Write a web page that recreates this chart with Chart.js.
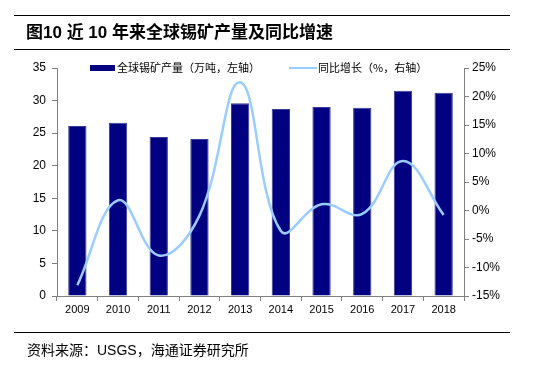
<!DOCTYPE html>
<html>
<head>
<meta charset="utf-8">
<script src="https://cdn.jsdelivr.net/npm/chart.js@4/dist/chart.umd.min.js"></script>
<style>
  body { margin: 0; background: #fff; }
  #wrap { position: relative; width: 538px; height: 365px; overflow: hidden; font-family: "Liberation Sans", "Noto Sans CJK SC", sans-serif; }
  #chart { position: absolute; left: 0; top: 0; }
  .rule { position: absolute; left: 14px; width: 496px; height: 1px; background: #000; }
  #title { position: absolute; left: 26px; top: 18px; font-size: 17px; font-weight: bold; font-family: "Liberation Sans", "Noto Sans CJK SC", sans-serif; color: #000; }
  #source { position: absolute; left: 27px; top: 339px; font-size: 14px; font-family: "Liberation Sans", "Noto Sans CJK SC", sans-serif; color: #000; }
  .leg { position: absolute; font-size: 11px; font-family: "Noto Sans CJK SC", sans-serif; color: #000; top: 59px; }
</style>
</head>
<body>
<div id="wrap">
  <canvas id="chart" width="538" height="365"></canvas>
  <div class="rule" style="top:15px"></div>
  <div id="title">图10 近 10 年来全球锡矿产量及同比增速</div>
  <div class="rule" style="top:49px"></div>
  <div style="position:absolute;left:90px;top:65px;width:25px;height:6px;background:#000080"></div>
  <div class="leg" style="left:117px">全球锡矿产量（万吨，左轴）</div>
  <div style="position:absolute;left:289px;top:67px;width:28px;height:2px;background:#99CCFF"></div>
  <div class="leg" style="left:318px">同比增长（%，右轴）</div>
  <div class="rule" style="top:332px"></div>
  <div id="source">资料来源：USGS，海通证券研究所</div>
</div>
<script>
// data
const years = ['2009', '2010', '2011', '2012', '2013', '2014', '2015', '2016', '2017', '2018'];
const production = [26.1, 26.6, 24.4, 24.1, 29.6, 28.7, 29.0, 28.9, 31.5, 31.2];
const yoyGrowth = [-13.1, 1.8, -7.9, -0.9, 22.5, -3.6, 1.1, -0.6, 8.7, -0.8];

const axisGrey = '#808080';
const tickFont = { family: 'Liberation Sans', size: 12 };

const ctx = document.getElementById('chart').getContext('2d');
new Chart(ctx, {
  data: {
    labels: years,
    datasets: [
      {
        type: 'line',
        label: '同比增长（%，右轴）',
        data: yoyGrowth,
        yAxisID: 'y1',
        borderColor: '#99CCFF',
        borderWidth: 2.5,
        pointRadius: 0,
        tension: 0.4,
        fill: false,
      },
      {
        type: 'bar',
        label: '全球锡矿产量（万吨，左轴）',
        data: production,
        yAxisID: 'y',
        backgroundColor: '#000080',
        borderColor: '#3a3a96',
        borderWidth: 1,
        categoryPercentage: 1,
        barPercentage: 0.45,
      },
    ],
  },
  options: {
    responsive: false,
    animation: false,
    layout: { padding: { top: 68, left: 0, right: 0, bottom: 0 } },
    plugins: { legend: { display: false }, tooltip: { enabled: false } },
    scales: {
      x: {
        grid: { drawOnChartArea: false, tickLength: 5, color: axisGrey, offset: true },
        border: { color: axisGrey },
        ticks: { color: '#000', font: { family: 'Liberation Sans', size: 11 }, padding: 2, maxRotation: 0 },
        afterFit: (s) => { s.height = 69; },
      },
      y: {
        position: 'left',
        min: 0,
        max: 35,
        ticks: { stepSize: 5, color: '#000', font: tickFont, padding: 6 },
        grid: { drawOnChartArea: false, tickLength: 5, color: axisGrey },
        border: { color: axisGrey },
        afterFit: (s) => { s.width = 57; },
      },
      y1: {
        position: 'right',
        min: -15,
        max: 25,
        ticks: { stepSize: 5, color: '#000', font: tickFont, padding: 3, callback: (v) => v + '%' },
        grid: { drawOnChartArea: false, tickLength: 5, color: axisGrey },
        border: { color: axisGrey },
        afterFit: (s) => { s.width = 74; },
      },
    },
  },
});
</script>
</body>
</html>
